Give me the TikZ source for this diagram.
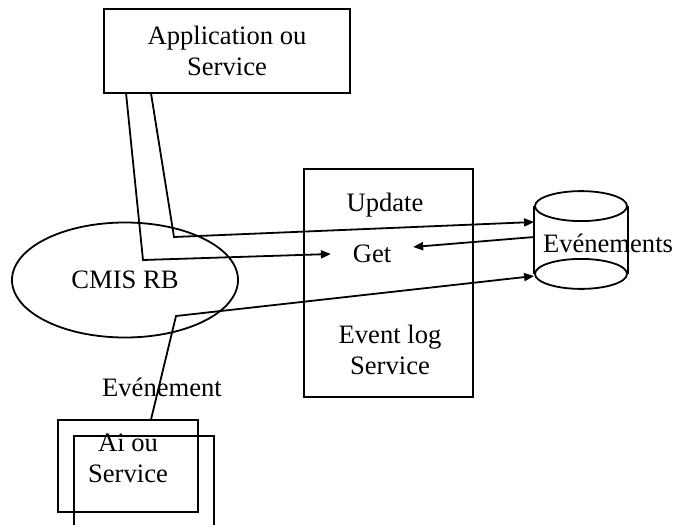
\documentclass[tikz,border=0pt]{standalone}
\usepackage{fontspec}
\setmainfont{Liberation Serif}
\usetikzlibrary{shapes,arrows.meta,positioning}

\begin{document}
\begin{tikzpicture}[x=0.5pt, y=-0.5pt, line width=0.9pt,
    font=\fontsize{13.3}{15.5}\selectfont,
    box/.style={draw, rectangle, align=center},
    flow/.style={-{Triangle[length=5pt,width=4pt]}}]
    \clip (0,0) rectangle (678,524);

    \node [box, minimum width=123pt, minimum height=42pt] (app) at (227,51) {Application ou\\Service};
    \node [draw, ellipse, minimum width=113pt, minimum height=57.5pt] (cmis) at (125,280) {CMIS RB};

    % event log service
    \node [box, minimum width=84.5pt, minimum height=114pt] (evlog) at (388.5,283) {};
    \node (update) at (385,205) {Update};
    \node [inner xsep=10.5pt] (get) at (372,254) {Get};
    \node [align=center] (evlogtxt) at (390,350) {Event log\\Service};

    % store (cylinder drawn round an empty node)
    \node [minimum width=46pt, minimum height=48pt, inner sep=0pt] (evts) at (581,240) {};
    \draw ([yshift=-7.5pt]evts.north) ellipse [x radius=23pt, y radius=7.5pt];
    \draw ([yshift=7.5pt]evts.south) ellipse [x radius=23pt, y radius=7.5pt];
    \draw ([yshift=-7.5pt]evts.north west) -- ([yshift=7.5pt]evts.south west);
    \draw ([yshift=-7.5pt]evts.north east) -- ([yshift=7.5pt]evts.south east);
    \node (evtstxt) at (608,243) {Evénements};

    % agent
    \node [box, minimum width=70pt, minimum height=46pt] (ai2) at (144,482) {};
    \node [box, minimum width=70pt, minimum height=46pt] (ai) at (128,466) {};
    \node [align=center] (aitxt) at (128,458) {Ai ou\\Service};
    \node (evt) at (162,387) {Evénement};

    \draw [flow] ([xshift=11.5pt]app.south west) -- (143,260) -- (get.west);
    \draw [flow] ([xshift=24pt]app.south west) -- (174,237) -- ([yshift=9pt]evts.west);
    \draw [flow] ([yshift=1.5pt]evts.west) -- ([yshift=3.5pt]get.east);
    \draw [flow] ([xshift=47pt]ai.north west) -- (176,316) -- ([yshift=-18pt]evts.west);
\end{tikzpicture}
\end{document}
